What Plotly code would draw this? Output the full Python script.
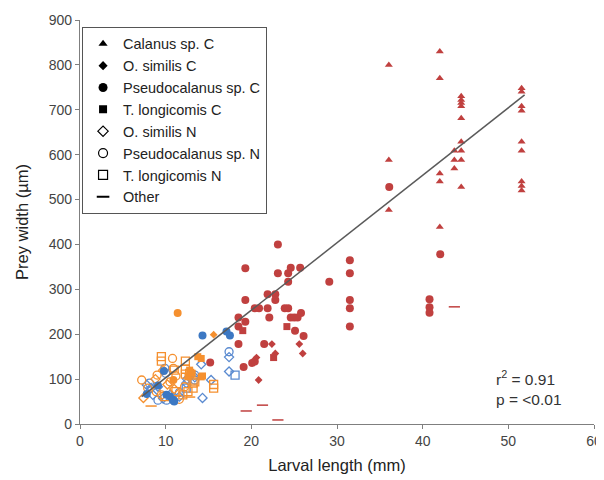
import plotly.graph_objects as go

# ---------------- data ----------------
# Red group
calanus_c_red_x = [36.05, 36.05, 36.05, 42.0, 42.0, 42.0, 42.0, 42.0, 43.7, 43.7, 43.7,
                   44.5, 44.5, 44.5, 44.5, 44.5, 44.5, 44.5, 44.5, 44.5,
                   51.55, 51.55, 51.55, 51.55, 51.55, 51.55, 51.55, 51.55, 51.55]
calanus_c_red_y = [800, 588, 477, 830, 770, 558, 540, 439, 609, 588, 569,
                   730, 722, 715, 708, 681, 629, 609, 588, 528,
                   748, 740, 708, 698, 629, 609, 540, 530, 520]

pseudo_c_red_x = [36.1, 42.05, 31.5, 31.5, 31.5, 31.5, 31.5, 40.8, 40.8, 40.8,
                  23.1, 19.3, 23.1, 24.3, 24.6, 25.7, 24.3, 29.1,
                  21.9, 22.8, 22.8, 19.3, 20.4, 20.9, 21.9, 23.9, 24.3,
                  22.1, 18.5, 24.6, 25.0, 25.4, 25.8, 19.3, 18.5, 25.1, 26.1,
                  18.5, 21.5, 15.2, 19.1, 20.1, 20.4]
pseudo_c_red_y = [528, 378, 365, 336, 276, 258, 217, 278, 260, 248,
                  400, 347, 336, 336, 348, 348, 317, 317,
                  289, 289, 276, 276, 258, 258, 258, 258, 258,
                  237, 237, 237, 237, 237, 247, 228, 217, 208, 196,
                  178, 178, 137, 127, 136, 139]

osimilis_c_red_x = [22.4, 25.6, 26.0, 20.6, 22.8, 20.85]
osimilis_c_red_y = [178, 178, 157, 148, 157, 98]

tlong_c_red_x = [19.0, 24.15, 22.6]
tlong_c_red_y = [208, 217, 148]

other_red_x = [43.7, 19.4, 21.3, 23.1]
other_red_y = [261, 29, 42, 9]

# Blue group
pseudo_c_blue_x = [14.3, 17.1, 17.5, 7.8, 9.1, 10.1, 10.5, 10.85, 11.0, 9.8]
pseudo_c_blue_y = [197, 206, 197, 67, 86, 65, 61, 54, 50, 118]

osimilis_n_blue_x = [7.8, 8.3, 8.5, 9.1, 9.7, 10.5, 11.6, 12.4, 14.15, 14.3, 15.3,
                     17.4, 17.4, 12.5, 13.4]
osimilis_n_blue_y = [87, 80, 65, 83, 57, 65, 61, 91, 133, 58, 98,
                     149, 117, 100, 104]

pseudo_n_blue_x = [9.9, 10.0, 13.4, 13.4, 9.1, 10.1, 10.9, 17.4, 8.1, 11.6]
pseudo_n_blue_y = [124, 113, 109, 98, 53, 53, 53, 161, 91, 70]

tlong_n_blue_x = [18.1, 12.4]
tlong_n_blue_y = [109, 80]

# Orange group
pseudo_c_orange_x = [11.4, 10.9]
pseudo_c_orange_y = [247, 98]

osimilis_c_orange_x = [15.6]
osimilis_c_orange_y = [199]

tlong_c_orange_x = [13.75, 14.15, 14.3, 12.6, 13.1, 14.15, 12.8]
tlong_c_orange_y = [150, 146, 107, 105, 113, 105, 120]

tlong_n_orange_x = [9.5, 9.5, 12.3, 12.3, 12.3, 11.0, 12.8, 13.4, 13.2, 13.2,
                    11.2, 9.9, 12.6, 15.6, 15.6, 12.0]
tlong_n_orange_y = [150, 140, 140, 122, 111, 120, 113, 94, 91, 80,
                    72, 61, 72, 88, 80, 65]

pseudo_n_orange_x = [7.2, 9.0, 10.8, 10.9, 7.9, 8.9, 9.5, 11.2, 10.5, 12.2, 11.6]
pseudo_n_orange_y = [98, 109, 146, 124, 80, 72, 65, 107, 94, 83, 55]

osimilis_n_orange_x = [7.4, 9.7, 8.8, 11.0, 10.2]
osimilis_n_orange_y = [58, 120, 100, 78, 88]

other_orange_x = [8.3, 12.8]
other_orange_y = [40, 60]

# Regression line end points
line_x = [7.2, 51.9]
line_y = [61, 733]

legend_names = ["Calanus sp. C", "O. similis C", "Pseudocalanus sp. C", "T. longicomis C",
                "O. similis N", "Pseudocalanus sp. N", "T. longicomis N", "Other"]
legend_symbols = ["triangle-up", "diamond", "circle", "square",
                  "diamond-open", "circle-open", "square-open", "line-ew"]

x_ticks = [0, 10, 20, 30, 40, 50, 60]
y_ticks = [0, 100, 200, 300, 400, 500, 600, 700, 800, 900]

# ---------------- styles ----------------
RED = "#C0403F"
BLUE = "#3C78C3"
BLUE_OPEN = "#5A8AD0"
ORANGE = "#F5902F"

SIZES = {"triangle-up": 7, "diamond": 6, "circle": 8, "square": 7,
         "diamond-open": 7, "circle-open": 8, "square-open": 8, "line-ew": 8}

fig = go.Figure()


def add(xs, ys, symbol, color):
    open_sym = symbol.endswith("open") or symbol == "line-ew"
    marker = dict(symbol=symbol, size=SIZES[symbol], color=color,
                  line=dict(color=color, width=1.3 if open_sym else 0))
    if symbol == "line-ew":
        marker["line"]["width"] = 1.5
    fig.add_trace(go.Scatter(x=xs, y=ys, mode="markers", marker=marker,
                             showlegend=False, hoverinfo="x+y"))


add(calanus_c_red_x, calanus_c_red_y, "triangle-up", RED)
add(pseudo_c_red_x, pseudo_c_red_y, "circle", RED)
add(osimilis_c_red_x, osimilis_c_red_y, "diamond", RED)
add(tlong_c_red_x, tlong_c_red_y, "square", RED)
add(other_red_x, other_red_y, "line-ew", RED)

add(osimilis_n_blue_x, osimilis_n_blue_y, "diamond-open", BLUE_OPEN)
add(pseudo_n_blue_x, pseudo_n_blue_y, "circle-open", BLUE_OPEN)
add(tlong_n_blue_x, tlong_n_blue_y, "square-open", BLUE_OPEN)

add(tlong_n_orange_x, tlong_n_orange_y, "square-open", ORANGE)
add(pseudo_n_orange_x, pseudo_n_orange_y, "circle-open", ORANGE)
add(osimilis_n_orange_x, osimilis_n_orange_y, "diamond-open", ORANGE)
add(tlong_c_orange_x, tlong_c_orange_y, "square", ORANGE)
add(pseudo_c_orange_x, pseudo_c_orange_y, "circle", ORANGE)
add(osimilis_c_orange_x, osimilis_c_orange_y, "diamond", ORANGE)
add(other_orange_x, other_orange_y, "line-ew", ORANGE)

add(pseudo_c_blue_x, pseudo_c_blue_y, "circle", BLUE)

# regression line
fig.add_trace(go.Scatter(x=line_x, y=line_y, mode="lines",
                         line=dict(color="#5a5a5a", width=1.5),
                         showlegend=False, hoverinfo="skip"))

# legend entries (black symbols)
for name, sym in zip(legend_names, legend_symbols):
    lw = 2 if sym == "line-ew" else (1.2 if sym.endswith("open") else 0)
    fig.add_trace(go.Scatter(x=[None], y=[None], mode="markers", name=name,
                             marker=dict(symbol=sym, size=SIZES[sym] + 1, color="black",
                                         line=dict(color="black", width=lw))))

FONT = "Liberation Sans, Arial, sans-serif"

fig.add_annotation(x=48.3, y=0, xref="x", yref="y", xanchor="left", yanchor="bottom",
                   text="r<sup>2</sup> = 0.91<br>p = &lt;0.01", showarrow=False, align="left",
                   yshift=14, font=dict(family=FONT, size=15.5, color="#333333"))

# The page body has an 8px margin, so the figure is sized/margined to
# place the plot area at the same page position as the reference.
fig.update_layout(
    width=596, height=472,
    margin=dict(l=72, r=10, t=12, b=56, autoexpand=False),
    paper_bgcolor="white", plot_bgcolor="white",
    font=dict(family=FONT, size=13, color="#404040"),
    showlegend=True,
    legend=dict(x=0.004, y=0.983, xanchor="left", yanchor="top",
                bgcolor="white", bordercolor="#555555", borderwidth=1,
                font=dict(family=FONT, size=14.5, color="#222222"),
                tracegroupgap=0, itemwidth=30),
)
fig.update_xaxes(range=[0, 60], tickvals=x_ticks, ticks="outside", ticklen=4,
                 tickcolor="#7f7f7f", showline=True, linecolor="#7f7f7f", linewidth=1.2,
                 showgrid=False, zeroline=False, automargin=False,
                 title=dict(text="Larval length (mm)", font=dict(size=16.5, color="#222222"), standoff=11),
                 tickfont=dict(size=14, color="#444444"))
fig.update_yaxes(range=[0, 900], tickvals=y_ticks, ticks="outside", ticklen=4,
                 tickcolor="#7f7f7f", showline=True, linecolor="#7f7f7f", linewidth=1.2,
                 showgrid=False, zeroline=False, automargin=False,
                 title=dict(text="Prey width (µm)", font=dict(size=16.5, color="#222222"), standoff=15),
                 tickfont=dict(size=14, color="#444444"))

fig.write_html("out.html")
